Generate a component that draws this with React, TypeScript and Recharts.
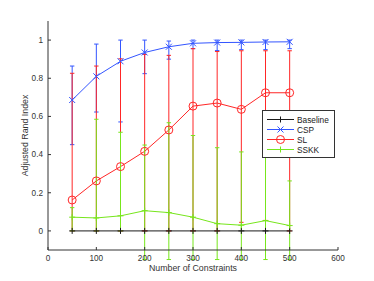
import React from 'react';
import { ComposedChart, Line, XAxis, YAxis, ErrorBar, Legend } from 'recharts';

// number of constraints
const constraints = [50, 100, 150, 200, 250, 300, 350, 400, 450, 500];

const baselineMean = [0, 0, 0, 0, 0, 0, 0, 0, 0, 0];

const cspMean = [0.686, 0.81, 0.889, 0.935, 0.965, 0.983, 0.987, 0.988, 0.99, 0.991];
const cspLow = [0.452, 0.623, 0.571, 0.824, 0.9, 0.955, 0.945, 0.95, 0.95, 0.955];
const cspHigh = [0.864, 0.979, 1.0, 1.0, 0.995, 1.0, 1.0, 1.0, 1.0, 1.0];

const slMean = [0.162, 0.262, 0.337, 0.417, 0.529, 0.654, 0.67, 0.637, 0.724, 0.724];
const slLow = [0, 0, 0, 0, 0, 0, 0, 0.045, 0.055, 0];
const slHigh = [0.826, 0.864, 0.902, 0.925, 0.92, 0.955, 0.94, 0.944, 0.944, 0.944];

const sskkMean = [0.072, 0.068, 0.079, 0.106, 0.096, 0.072, 0.038, 0.03, 0.054, 0.028];
const sskkLow = [0, 0, 0, -0.15, -0.15, -0.15, -0.15, -0.15, -0.15, -0.15];
const sskkHigh = [0.122, 0.585, 0.517, 0.45, 0.567, 0.5, 0.436, 0.414, 0.55, 0.262];

const xTicks = [0, 100, 200, 300, 400, 500, 600];
const yTicks = [0, 0.2, 0.4, 0.6, 0.8, 1];

const BLACK = '#1a1a1a';
const BLUE = '#3355ff';
const RED = '#ff2626';
const GREEN = '#77e61c';
const FONT = '"Liberation Sans", Arial, Helvetica, sans-serif';

const data = constraints.map((n, i) => ({
  n,
  baseline: baselineMean[i],
  csp: cspMean[i],
  cspErr: [cspMean[i] - cspLow[i], cspHigh[i] - cspMean[i]],
  sl: slMean[i],
  slErr: [slMean[i] - slLow[i], slHigh[i] - slMean[i]],
  sskk: sskkMean[i],
  sskkErr: [sskkMean[i] - sskkLow[i], sskkHigh[i] - sskkMean[i]],
}));

type MarkerKind = 'plus' | 'cross' | 'circle';

const Marker = ({ kind, cx, cy, color }: { kind: MarkerKind; cx: number; cy: number; color: string }) => {
  if (kind === 'circle') {
    return <circle cx={cx} cy={cy} r={4} fill="none" stroke={color} strokeWidth={1} />;
  }
  const s = 3;
  if (kind === 'cross') {
    return (
      <g stroke={color} strokeWidth={1}>
        <line x1={cx - s} y1={cy - s} x2={cx + s} y2={cy + s} />
        <line x1={cx - s} y1={cy + s} x2={cx + s} y2={cy - s} />
      </g>
    );
  }
  return (
    <g stroke={color} strokeWidth={1}>
      <line x1={cx - s} y1={cy} x2={cx + s} y2={cy} />
      <line x1={cx} y1={cy - s} x2={cx} y2={cy + s} />
    </g>
  );
};

const dotOf = (kind: MarkerKind, color: string) => (props: any) => (
  <Marker key={props.key ?? `${kind}-${props.index}`} kind={kind} cx={props.cx} cy={props.cy} color={color} />
);

const legendItems: { name: string; color: string; kind: MarkerKind }[] = [
  { name: 'Baseline', color: BLACK, kind: 'plus' },
  { name: 'CSP', color: BLUE, kind: 'cross' },
  { name: 'SL', color: RED, kind: 'circle' },
  { name: 'SSKK', color: GREEN, kind: 'plus' },
];

const LegendBox = () => (
  <svg width={73} height={48} style={{ display: 'block' }}>
    <rect x={0.5} y={0.5} width={72} height={47} fill="#fff" stroke="#333" strokeWidth={1} />
    {legendItems.map((item, i) => {
      const y = 9.5 + i * 10;
      return (
        <g key={item.name}>
          <line x1={5} y1={y} x2={32} y2={y} stroke={item.color} strokeWidth={1} />
          <Marker kind={item.kind} cx={18.5} cy={y} color={item.color} />
          <text x={35} y={y + 3} fontSize={8.3} fill="#222" fontFamily={FONT}>
            {item.name}
          </text>
        </g>
      );
    })}
  </svg>
);

export default function App() {
  return (
    <div style={{ position: 'absolute', left: 0, top: 0, background: '#fff', fontFamily: FONT }}>
      <ComposedChart width={374} height={281} data={data} margin={{ top: 21, right: 36, left: 2, bottom: 0 }}>
        <XAxis
          dataKey="n"
          type="number"
          domain={[0, 600]}
          ticks={xTicks}
          height={31}
          stroke="#333"
          tickSize={-3}
          tickMargin={8}
          tick={{ fontSize: 8.2, fill: '#333', fontFamily: FONT }}
          label={{ value: 'Number of Constraints', position: 'center', dy: 2, fontSize: 8.8, fill: '#333', fontFamily: FONT }}
        />
        <YAxis
          type="number"
          domain={[-0.1, 1.1]}
          ticks={yTicks}
          width={46}
          allowDataOverflow
          stroke="#333"
          tickSize={-3}
          tickMargin={8}
          tick={{ fontSize: 8.2, fill: '#333', fontFamily: FONT }}
          label={{ value: 'Adjusted Rand Index', angle: -90, position: 'center', fontSize: 8.8, fill: '#333', fontFamily: FONT }}
        />
        <Legend
          layout="vertical"
          align="center"
          verticalAlign="middle"
          content={<LegendBox />}
          wrapperStyle={{ left: 262, top: 110, width: 73, height: 48 }}
        />
        <Line
          dataKey="baseline"
          name="Baseline"
          stroke={BLACK}
          strokeWidth={1}
          dot={dotOf('plus', BLACK)}
          activeDot={false}
          isAnimationActive={false}
        />
        <Line
          dataKey="csp"
          name="CSP"
          stroke={BLUE}
          strokeWidth={1}
          dot={dotOf('cross', BLUE)}
          activeDot={false}
          isAnimationActive={false}
        >
          <ErrorBar dataKey="cspErr" direction="y" width={2.2} stroke={BLUE} strokeWidth={1} />
        </Line>
        <Line
          dataKey="sl"
          name="SL"
          stroke={RED}
          strokeWidth={1}
          dot={dotOf('circle', RED)}
          activeDot={false}
          isAnimationActive={false}
        >
          <ErrorBar dataKey="slErr" direction="y" width={2.2} stroke={RED} strokeWidth={1} />
        </Line>
        <Line
          dataKey="sskk"
          name="SSKK"
          stroke={GREEN}
          strokeWidth={1}
          dot={dotOf('plus', GREEN)}
          activeDot={false}
          isAnimationActive={false}
        >
          <ErrorBar dataKey="sskkErr" direction="y" width={2.2} stroke={GREEN} strokeWidth={1} />
        </Line>
      </ComposedChart>
    </div>
  );
}
